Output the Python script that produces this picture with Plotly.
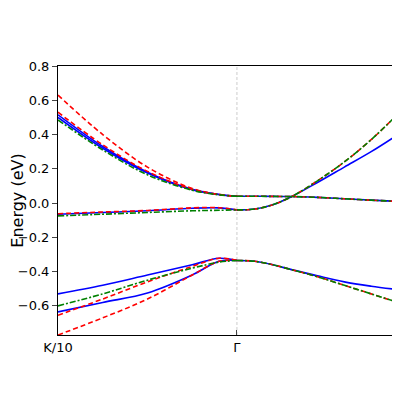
import plotly.graph_objects as go

XK = [0, 0.25, 0.5, 0.75, 0.9, 1.0]
XA = [1.0, 1.1, 1.2, 1.31, 1.45, 1.6, 1.75, 1.9]
X_TICKS = [0, 1, 1.9]
X_LABELS = ["K/10", "Γ", "A/5"]

# K side bands
blue_K = [
    [0.515, 0.33, 0.18, 0.08, 0.05, 0.04],
    [0.50, 0.32, 0.175, 0.078, 0.05, 0.04],
    [-0.065, -0.055, -0.045, -0.03, -0.028, -0.04],
    [-0.53, -0.48, -0.42, -0.36, -0.322, -0.335],
    [-0.635, -0.58, -0.525, -0.42, -0.34, -0.335],
]
red_K = [
    [0.63, 0.40, 0.21, 0.085, 0.05, 0.04],
    [0.53, 0.34, 0.185, 0.08, 0.05, 0.04],
    [-0.062, -0.052, -0.043, -0.028, -0.027, -0.04],
    [-0.655, -0.56, -0.46, -0.37, -0.322, -0.335],
    [-0.77, -0.67, -0.56, -0.42, -0.34, -0.335],
]
green_K = [
    [0.485, 0.31, 0.165, 0.075, 0.048, 0.04],
    [-0.075, -0.065, -0.055, -0.045, -0.042, -0.04],
    [-0.60, -0.53, -0.45, -0.38, -0.345, -0.335],
]
# A side bands
blue_A = [
    [-0.04, -0.035, -0.01, 0.04, 0.12, 0.21, 0.30, 0.40],
    [0.04, 0.04, 0.039, 0.038, 0.033, 0.025, 0.017, 0.01],
    [-0.335, -0.34, -0.36, -0.39, -0.425, -0.46, -0.485, -0.505],
]
red_A = [
    [-0.04, -0.035, -0.01, 0.04, 0.13, 0.24, 0.37, 0.52],
    [0.04, 0.04, 0.039, 0.038, 0.033, 0.025, 0.017, 0.01],
    [-0.335, -0.34, -0.36, -0.39, -0.43, -0.48, -0.53, -0.58],
]
green_A = red_A

fig = go.Figure()
def add(x, ys, color, dash, w=1.6):
    for y in ys:
        fig.add_trace(go.Scatter(x=x, y=y, mode="lines",
                                 line=dict(color=color, dash=dash, width=w, shape="spline"),
                                 showlegend=False, hoverinfo="skip"))

add(XK, blue_K, "#0000ff", "solid")
add(XA, blue_A, "#0000ff", "solid")
add(XK, red_K, "#ff0000", "5px,3px")
add(XA, red_A, "#ff0000", "5px,3px")
add(XK, green_K, "#008000", "6px,2px,2px,2px")
add(XA, green_A, "#008000", "6px,2px,2px,2px")

fig.add_vline(x=X_TICKS[1], line=dict(color="#cccccc", width=1, dash="3px,2px"), layer="below")

fig.update_layout(
    width=400, height=400, margin=dict(l=50, r=10, t=58, b=73, autoexpand=False),
    plot_bgcolor="white", paper_bgcolor="white",
    font=dict(family="DejaVu Sans", size=13, color="black"),
    xaxis=dict(range=[0, 1.9], tickvals=X_TICKS, ticktext=X_LABELS, ticks="inside",
               automargin=False, showgrid=False, zeroline=False, showline=True,
               linecolor="black", mirror=True),
    yaxis=dict(range=[-0.77, 0.8], tickvals=[-0.6, -0.4, -0.2, 0.0, 0.2, 0.4, 0.6, 0.8],
               tickformat=".1f", ticks="outside", automargin=False, showgrid=False,
               zeroline=False, showline=True, linecolor="black", mirror=True,
               title=dict(text="Energy (eV)", standoff=2)),
)
fig.write_html("out.html")
